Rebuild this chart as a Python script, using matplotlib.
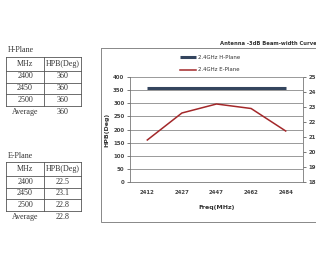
import matplotlib.pyplot as plt
from matplotlib.patches import Rectangle

# table data
h_mhz = ['2400', '2450', '2500']
h_hpb = ['360', '360', '360']
h_avg = '360'
e_mhz = ['2400', '2450', '2500']
e_hpb = ['22.5', '23.1', '22.8']
e_avg = '22.8'

# curve data
freqs = ['2412', '2427', '2447', '2462', '2484']
h_plane = [360, 360, 360, 360, 360]
e_plane = [20.8, 22.6, 23.2, 22.9, 21.4]

W, H = 316, 259
fig = plt.figure(figsize=(W / 100, H / 100), dpi=100)
fig.patch.set_facecolor('white')

# overlay in pixel coords for the tables and the chart frame
bg = fig.add_axes([0, 0, 1, 1])
bg.set_xlim(0, W)
bg.set_ylim(H, 0)
bg.axis('off')

serif = 'Liberation Serif'
tcol = '#333333'
fs = 5.8


def draw_table(name, top, mhz, hpb, avg):
    cols = [6, 44, 81]
    rows = [top, top + 13.5, top + 25.5, top + 37, top + 49]
    bg.text(cols[0] + 2, top - 2.5, name, fontsize=fs, family=serif, color=tcol, va='bottom')
    for y in rows:
        bg.plot([cols[0], cols[2]], [y, y], color='#555555', lw=0.6)
    for x in cols:
        bg.plot([x, x], [rows[0], rows[-1]], color='#555555', lw=0.6)
    cells = [('MHz', 'HPB(Deg)')] + list(zip(mhz, hpb))
    for i, (a, b) in enumerate(cells):
        yc = (rows[i] + rows[i + 1]) / 2
        bg.text((cols[0] + cols[1]) / 2, yc, a, fontsize=fs, family=serif, color=tcol, ha='center', va='center')
        bg.text((cols[1] + cols[2]) / 2, yc, b, fontsize=fs, family=serif, color=tcol, ha='center', va='center')
    ya = rows[-1] + 6
    bg.text((cols[0] + cols[1]) / 2, ya, 'Average', fontsize=fs, family=serif, color=tcol, ha='center', va='center')
    bg.text((cols[1] + cols[2]) / 2, ya, avg, fontsize=fs, family=serif, color=tcol, ha='center', va='center')


draw_table('H-Plane', 57, h_mhz, h_hpb, h_avg)
draw_table('E-Plane', 162, e_mhz, e_hpb, e_avg)

# chart frame and title
bg.add_patch(Rectangle((101, 48), 230, 174, fill=False, edgecolor='#888888', lw=0.7))
bg.text(220, 46, 'Antenna -3dB Beam-width Curve', fontsize=3.8, fontweight='bold',
        color='#333333', va='bottom', ha='left')

# main plot
x0, x1, y0, y1 = 130, 303, 77, 182
ax = fig.add_axes([x0 / W, (H - y1) / H, (x1 - x0) / W, (y1 - y0) / H])
ax.set_zorder(2)
pos = range(len(freqs))
lh, = ax.plot(pos, h_plane, color='#34455e', lw=2.2, solid_capstyle='butt')
ax.set_ylim(0, 400)
ax.set_xlim(-0.5, len(freqs) - 0.5)
ax.set_yticks(range(0, 401, 50))
ax.set_xticks(list(pos))
ax.set_xticklabels(freqs)
ax.yaxis.grid(True, color='#999999', lw=0.7)
ax.set_axisbelow(True)
ax.tick_params(labelsize=3.9, length=2, width=0.5, colors='#444444', pad=2)
ax.tick_params(axis='x', length=0, pad=6)
ax.set_ylabel('HPB(Deg)', fontsize=4.5, fontweight='bold', color='#333333', labelpad=3)
ax.set_xlabel('Freq(MHz)', fontsize=4.5, fontweight='bold', color='#333333', labelpad=7)
for lab in ax.get_xticklabels() + ax.get_yticklabels():
    lab.set_fontweight('semibold')
for s in ['top', 'right']:
    ax.spines[s].set_visible(False)
for s in ['left', 'bottom']:
    ax.spines[s].set_color('#777777')
    ax.spines[s].set_linewidth(0.6)

ax2 = ax.twinx()
le, = ax2.plot(pos, e_plane, color='#a3282a', lw=1.1)
ax2.set_ylim(18, 25)
ax2.set_yticks(range(18, 26))
ax2.tick_params(labelsize=3.9, length=2, width=0.5, colors='#444444', pad=2)
for lab in ax2.get_yticklabels():
    lab.set_fontweight('semibold')
for s in ['top', 'left', 'bottom']:
    ax2.spines[s].set_visible(False)
ax2.spines['right'].set_color('#777777')
ax2.spines['right'].set_linewidth(0.6)

fig.legend([lh, le], ['2.4GHz H-Plane', '2.4GHz E-Plane'], loc='upper left',
           bbox_to_anchor=(175 / W, 1 - 50 / H), frameon=False, fontsize=3.9,
           handlelength=3, labelspacing=1.4, handletextpad=0.3, labelcolor='#333333')

fig.savefig('out.png', dpi=100, facecolor='white')
